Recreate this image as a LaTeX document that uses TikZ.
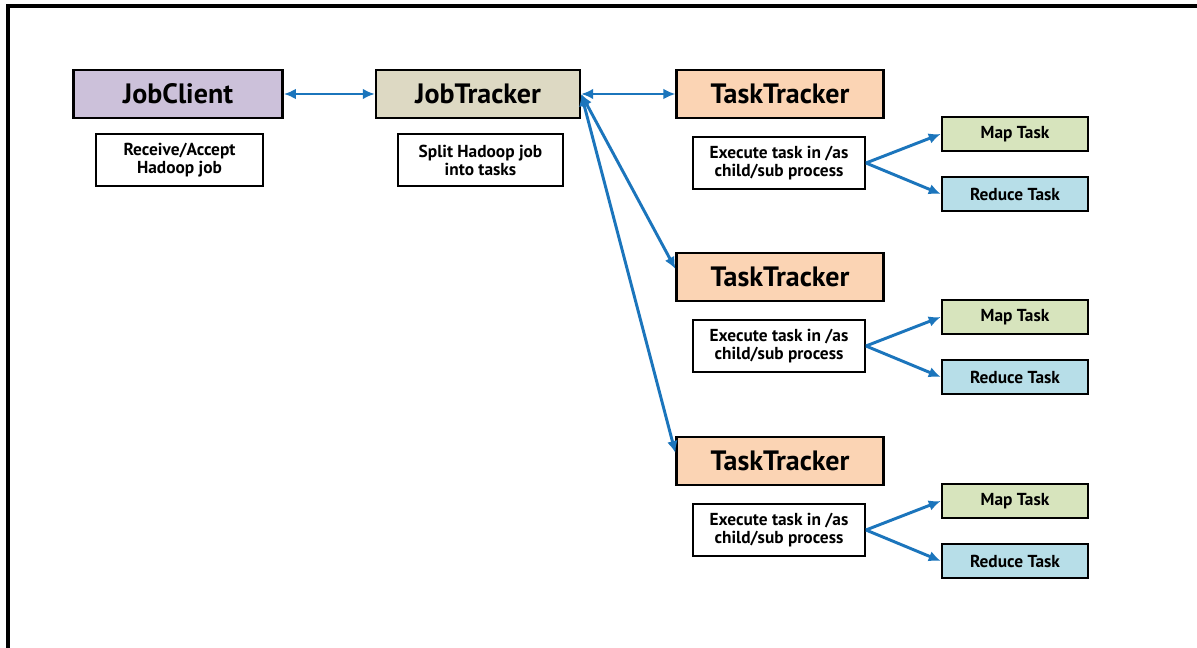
\documentclass[tikz,border=0pt]{standalone}
\usepackage{fontspec}
\setmainfont{PT Sans}
\usetikzlibrary{arrows.meta}

\definecolor{azulF}{HTML}{1B75BC}
\definecolor{lilaC}{HTML}{CCC1DA}
\definecolor{grisJ}{HTML}{DDD9C3}
\definecolor{naranT}{HTML}{FBD4B4}
\definecolor{verdeM}{HTML}{D7E4BD}
\definecolor{celesR}{HTML}{B7DEE8}

\tikzset{
    caja/.style={draw=black,line width=1.8pt,minimum height=36pt,font=\bfseries\fontsize{21}{23}\selectfont},
    nota/.style={draw=black,line width=1.4pt,fill=white,align=center,minimum height=39pt,inner sep=2pt,font=\bfseries\fontsize{13}{13.5}\selectfont},
    tarea/.style={draw=black,line width=1.4pt,minimum width=110pt,minimum height=26pt,font=\bfseries\fontsize{13}{14}\selectfont},
    flecha/.style={azulF,line width=2.2pt,-{Latex[length=9pt,width=8pt]}},
    dflecha/.style={azulF,line width=2.2pt,{Latex[length=9pt,width=8pt]}-{Latex[length=9pt,width=8pt]}}
}

\begin{document}
\begin{tikzpicture}[x=0.75pt,y=-0.75pt]

    \useasboundingbox (0,0) rectangle (1197,648);
    \fill[white] (0,0) rectangle (1197,648);

    %Marco
    \draw[line width=2.3pt,black] (8,6) rectangle (1210,660);

    %Cliente y JobTracker
    \node[caja,fill=lilaC,minimum width=157pt] (jc) at (178,94) {JobClient};
    \node[caja,fill=grisJ,minimum width=153pt] (jt) at (478,94) {JobTracker};
    \node[nota,minimum width=125pt] (rcv) at (179.5,160) {Receive/Accept\\Hadoop job};
    \node[nota,minimum width=124pt] (spl) at (480.5,160) {Split Hadoop job\\into tasks};
    \draw[dflecha] (jc) -- (jt);

    %TaskTrackers
    \foreach \n/\y in {1/94,2/277,3/461}{
        \node[caja,fill=naranT,minimum width=155pt] (tt\n) at (780,\y) {TaskTracker};
        \node[nota,minimum width=129pt] (ex\n) at (779,\y+69) {Execute task in /as\\child/sub process};
        \node[tarea,fill=verdeM] (mt\n) at (1015,\y+40) {Map Task};
        \node[tarea,fill=celesR] (rt\n) at (1015,\y+100) {Reduce Task};
        \draw[flecha] (ex\n.east) -- (mt\n.west);
        \draw[flecha] (ex\n.east) -- (rt\n.west);
    }

    %Enlaces JobTracker
    \draw[dflecha] (jt.east) -- (tt1.west);
    \foreach \n in {2,3}{
        \draw[dflecha] (jt.east) -- ([yshift=6pt]tt\n.west);
    }

\end{tikzpicture}
\end{document}
